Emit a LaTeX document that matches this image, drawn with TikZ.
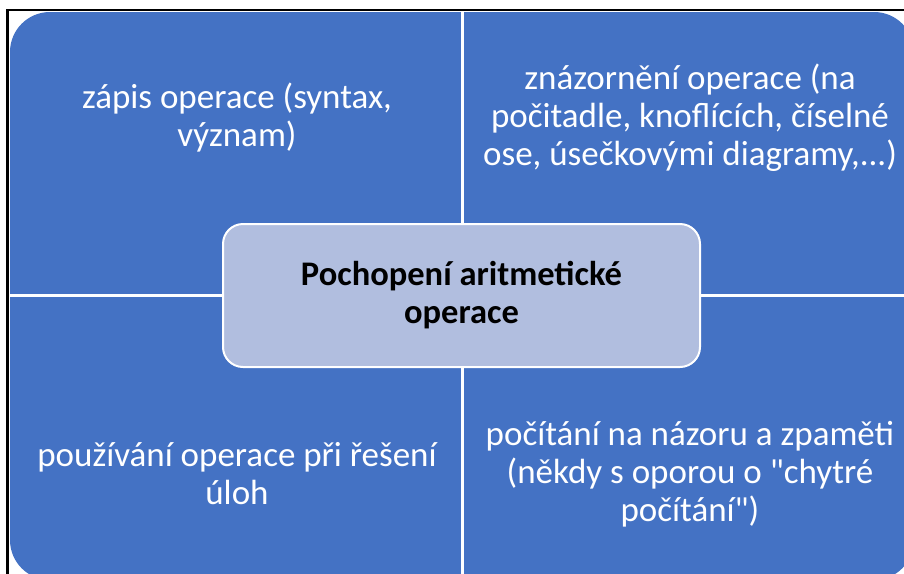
\documentclass[tikz,border=0pt]{standalone}
\usepackage{fontspec}
\setmainfont{Carlito}
\definecolor{modra}{HTML}{4472C4}
\definecolor{svetla}{HTML}{B1BEDF}
\tikzset{
  kvtext/.style={text=white, align=center, font=\fontsize{35}{38}\selectfont},
  stredbox/.style={draw=white, line width=2pt, fill=svetla, rounded corners=20pt,
    minimum width=477pt, minimum height=143pt, align=center,
    font=\fontsize{34.5}{38}\selectfont\bfseries}
}
\begin{document}
\begin{tikzpicture}[x=1pt,y=-1pt]
  \useasboundingbox (0,0) rectangle (904,573);
  \fill[white] (0,0) rectangle (904,573);
  \clip (0,0) rectangle (904,573);

  % ram
  \draw[line width=2.5pt] (7.5,10) rectangle (930,600);

  % kvadranty
  \fill[modra, rounded corners=40pt] (10,12) rectangle (914,580);
  \draw[white, line width=3pt] (462,12) -- (462,580);
  \draw[white, line width=3pt] (10,295.5) -- (914,295.5);

  % texty
  \node[kvtext] (zapis) at (237,118) {zápis operace (syntax,\\význam)};
  \node[kvtext] (znazorneni) at (690,118) {znázornění operace (na\\počitadle, knoflících, číselné\\ose, úsečkovými diagramy,...)};
  \node[kvtext] (pouzivani) at (237,474) {používání operace při řešení\\úloh};
  \node[kvtext] (pocitani) at (690,474) {počítání na názoru a zpaměti\\(někdy s oporou o \textquotedbl chytré\\počítání\textquotedbl)};

  % stred
  \node[stredbox] (pochopeni) at (461.5,295.5) {Pochopení aritmetické\\operace};

\end{tikzpicture}
\end{document}
